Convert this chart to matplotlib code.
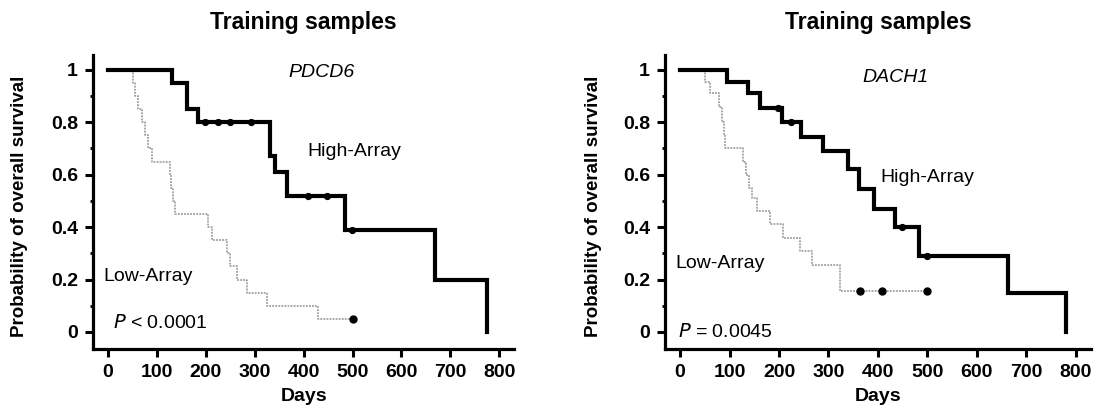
import matplotlib
matplotlib.use("Agg")
import matplotlib.pyplot as plt
from matplotlib.ticker import MultipleLocator

plt.rcParams['font.family'] = ['Liberation Sans', 'DejaVu Sans']

# ---- data ----
# Left panel: PDCD6
pdcd6_high_days = [0, 131, 161, 184, 331, 341, 366, 485, 669, 775]
pdcd6_high_surv = [1.0, 0.95, 0.85, 0.80, 0.67, 0.61, 0.52, 0.39, 0.20, 0.0]
pdcd6_high_cens_days = [198, 225, 250, 292, 409, 448, 499]
pdcd6_high_cens_surv = [0.80, 0.80, 0.80, 0.80, 0.52, 0.52, 0.39]

pdcd6_low_days = [0, 51, 55, 62, 70, 76, 82, 90, 127, 130, 133, 137, 205, 212,
                  243, 250, 264, 284, 325, 430, 500]
pdcd6_low_surv = [1.0, 0.95, 0.90, 0.85, 0.80, 0.75, 0.70, 0.65, 0.60, 0.55, 0.50,
                  0.45, 0.40, 0.35, 0.30, 0.25, 0.20, 0.15, 0.10, 0.05, 0.05]
pdcd6_low_cens_days = [500]
pdcd6_low_cens_surv = [0.05]

# Right panel: DACH1
dach1_high_days = [0, 95, 138, 162, 206, 245, 288, 340, 362, 392, 435, 484, 664, 781]
dach1_high_surv = [1.0, 0.955, 0.91, 0.855, 0.80, 0.745, 0.69, 0.62, 0.545, 0.47,
                   0.40, 0.29, 0.147, 0.0]
dach1_high_cens_days = [198, 224, 449, 500]
dach1_high_cens_surv = [0.855, 0.80, 0.40, 0.29]

dach1_low_days = [0, 51, 61, 78, 84, 88, 91, 128, 133, 140, 145, 155, 182, 208,
                  243, 267, 324, 500]
dach1_low_surv = [1.0, 0.955, 0.91, 0.86, 0.80, 0.75, 0.70, 0.65, 0.60, 0.55, 0.51,
                  0.46, 0.41, 0.36, 0.31, 0.255, 0.155, 0.155]
dach1_low_cens_days = [364, 409, 500]
dach1_low_cens_surv = [0.155, 0.155, 0.155]

x_ticks = [0, 100, 200, 300, 400, 500, 600, 700, 800]
y_ticks = [0, 0.2, 0.4, 0.6, 0.8, 1.0]
y_tick_labels = ['0', '0.2', '0.4', '0.6', '0.8', '1']

panels = [
    dict(gene='PDCD6', pval='$\\mathit{P}$ < 0.0001',
         hd=pdcd6_high_days, hs=pdcd6_high_surv, hcd=pdcd6_high_cens_days, hcs=pdcd6_high_cens_surv,
         ld=pdcd6_low_days, ls=pdcd6_low_surv, lcd=pdcd6_low_cens_days, lcs=pdcd6_low_cens_surv,
         high_pos=(407, 0.69), low_pos=(-10, 0.21), p_pos=(10, 0.035), gene_pos=(436, 0.99)),
    dict(gene='DACH1', pval='$\\mathit{P}$ = 0.0045',
         hd=dach1_high_days, hs=dach1_high_surv, hcd=dach1_high_cens_days, hcs=dach1_high_cens_surv,
         ld=dach1_low_days, ls=dach1_low_surv, lcd=dach1_low_cens_days, lcs=dach1_low_cens_surv,
         high_pos=(405, 0.59), low_pos=(-10, 0.26), p_pos=(-4, 0.0), gene_pos=(435, 0.97)),
]

fig = plt.figure(figsize=(10.96, 4.13), dpi=100)
axes_rects = [[0.085, 0.155, 0.384, 0.712], [0.607, 0.155, 0.388, 0.712]]
ylabel_x = [20 / 1096, 594 / 1096]

for p, rect, ylx in zip(panels, axes_rects, ylabel_x):
    ax = fig.add_axes(rect)
    ax.step(p['ld'], p['ls'], where='post', color='#909090', lw=1.1,
            linestyle=(0, (1.2, 0.8)), zorder=2)
    ax.step(p['hd'], p['hs'], where='post', color='black', lw=3.0, zorder=3,
            solid_joinstyle='miter')
    ax.plot(p['hcd'], p['hcs'], 'o', color='black', ms=4.2, zorder=4)
    ax.plot(p['lcd'], p['lcs'], 'o', color='black', ms=5, zorder=4)

    ax.set_xlim(-30, 830)
    ax.set_ylim(-0.065, 1.057)
    for s in ['top', 'right']:
        ax.spines[s].set_visible(False)
    for s in ['left', 'bottom']:
        ax.spines[s].set_linewidth(2.3)
    ax.set_xticks(x_ticks)
    ax.set_xticklabels([str(v) for v in x_ticks], fontweight='bold', fontsize=14)
    ax.set_yticks(y_ticks)
    ax.set_yticklabels(y_tick_labels, fontweight='bold', fontsize=14)
    ax.yaxis.set_minor_locator(MultipleLocator(0.1))
    ax.tick_params(axis='both', which='major', length=6, width=2.2, direction='out', pad=5)
    ax.tick_params(axis='y', which='minor', length=2.5, width=2.0, direction='out')
    ax.set_xlabel('Days', fontweight='bold', fontsize=14, labelpad=5)

    ax.text(*p['gene_pos'], p['gene'], style='italic', fontsize=14, ha='center', va='center')
    ax.text(*p['high_pos'], 'High-Array', fontsize=14, ha='left', va='center')
    ax.text(*p['low_pos'], 'Low-Array', fontsize=14, ha='left', va='center')
    ax.text(*p['p_pos'], p['pval'], fontsize=14, ha='left', va='center')

    cx = rect[0] + rect[2] / 2
    fig.text(cx, 1 - 22 / 413, 'Training samples', fontweight='bold', fontsize=16.5,
             ha='center', va='center')
    fig.text(ylx, rect[1] + rect[3] / 2 - 0.01, 'Probability of overall survival',
             fontweight='bold', fontsize=13.5, rotation=90, ha='center', va='center')

fig.savefig('out.png', dpi=100)
